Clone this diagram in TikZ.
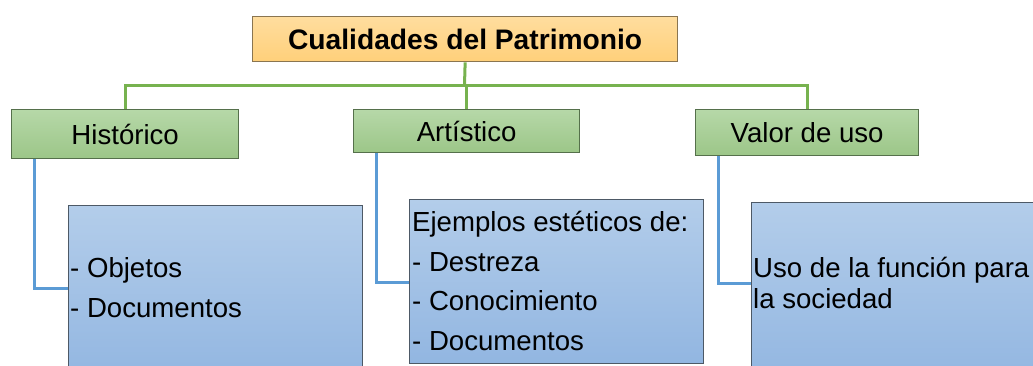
\documentclass[tikz,border=0pt]{standalone}
\usepackage{fontspec}
\setmainfont{Liberation Sans}
\definecolor{titleTop}{HTML}{FFDD9E}
\definecolor{titleBot}{HTML}{FFD07A}
\definecolor{titleBorder}{HTML}{8A7550}
\definecolor{greenTop}{HTML}{B6D8A8}
\definecolor{greenBot}{HTML}{9CC688}
\definecolor{greenBorder}{HTML}{55704B}
\definecolor{blueTop}{HTML}{B3CDEA}
\definecolor{blueBot}{HTML}{92B6E1}
\definecolor{blueBorder}{HTML}{4D5966}
\definecolor{gline}{HTML}{77B24F}
\definecolor{bline}{HTML}{5B9BD5}
\tikzset{
  boxbase/.style={rectangle, inner sep=0pt, anchor=north west, line width=1.3pt},
  titlebox/.style={boxbase, draw=titleBorder, top color=titleTop, bottom color=titleBot},
  greenbox/.style={boxbase, draw=greenBorder, top color=greenTop, bottom color=greenBot},
  bluebox/.style={boxbase, draw=blueBorder, top color=blueTop, bottom color=blueBot},
  gconn/.style={draw=gline, line width=3pt},
  bconn/.style={draw=bline, line width=3pt},
  lbl/.style={inner sep=0pt, font=\fontsize{27.6}{32}\selectfont},
  itemtxt/.style={inner sep=0pt, anchor=base west, font=\fontsize{27.6}{32}\selectfont},
}
\begin{document}
\begin{tikzpicture}[x=1pt, y=-1pt]
\useasboundingbox (0,0) rectangle (1033,365);
\clip (0,0) rectangle (1033,365);
% top box
\node[titlebox, minimum width=425pt, minimum height=45pt] (title) at (252,16) {};
\node[lbl, font=\fontsize{28.2}{32}\selectfont\bfseries] (titletxt) at (title.center) {Cualidades del Patrimonio};
% green boxes
\node[greenbox, minimum width=227pt, minimum height=49pt] (hist) at (11,109) {};
\node[lbl] (histtxt) at (hist.center) {Histórico};
\node[greenbox, minimum width=226pt, minimum height=43pt] (art) at (353,109) {};
\node[lbl] (arttxt) at (art.center) {Artístico};
\node[greenbox, minimum width=223pt, minimum height=46pt] (val) at (695,109) {};
\node[lbl] (valtxt) at (val.center) {Valor de uso};
% green connectors
\coordinate (junc) at (464.5,85);
\draw[gconn] (title.south) -- (junc);
\draw[gconn] (junc) -| (hist.north);
\draw[gconn] (junc) -| (art.north);
\draw[gconn] (junc) -| (val.north);
% blue boxes
\node[bluebox, minimum width=294pt, minimum height=175pt] (b1) at (68,205) {};
\node[bluebox, minimum width=294pt, minimum height=164pt] (b2) at (409,199) {};
\node[bluebox, minimum width=310pt, minimum height=180pt] (b3) at (751,202) {};
% blue connectors
\draw[bconn] ([xshift=23pt]hist.south west) |- ([yshift=-83pt]b1.north west);
\draw[bconn] ([xshift=23pt]art.south west) |- ([yshift=-83pt]b2.north west);
\draw[bconn] ([xshift=23pt]val.south west) |- ([yshift=-81pt]b3.north west);
% texts
\node[itemtxt] (b1a) at (70,277) {- Objetos};
\node[itemtxt] (b1b) at (70,317) {- Documentos};
\node[itemtxt] (b2a) at (412,231) {Ejemplos estéticos de:};
\node[itemtxt] (b2b) at (412,271) {- Destreza};
\node[itemtxt] (b2c) at (412,310) {- Conocimiento};
\node[itemtxt] (b2d) at (412,350) {- Documentos};
\node[itemtxt] (b3a) at (753,277) {Uso de la función para};
\node[itemtxt] (b3b) at (753,308) {la sociedad};
\end{tikzpicture}
\end{document}
